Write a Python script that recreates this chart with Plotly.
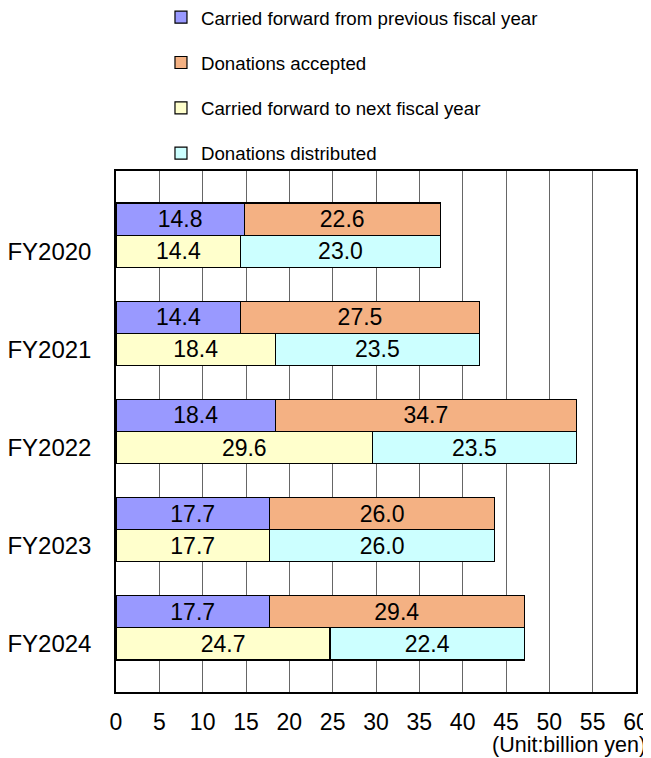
import plotly.graph_objects as go

years = ["FY2020", "FY2021", "FY2022", "FY2023", "FY2024"]
carried_prev = [14.8, 14.4, 18.4, 17.7, 17.7]
accepted = [22.6, 27.5, 34.7, 26.0, 29.4]
carried_next = [14.4, 18.4, 29.6, 17.7, 24.7]
distributed = [23.0, 23.5, 23.5, 26.0, 22.4]
x_ticks = list(range(0, 61, 5))

names = ["Carried forward from previous fiscal year", "Donations accepted",
         "Carried forward to next fiscal year", "Donations distributed"]
colors = ["#9999FF", "#F4B183", "#FFFFCC", "#CCFFFF"]

idx = list(range(len(years)))
top_pos = [i - 0.1635 for i in idx]
bot_pos = [i + 0.1635 for i in idx]

FONT = "Liberation Sans, Arial"

fig = go.Figure()
series = [(carried_prev, top_pos), (accepted, top_pos), (carried_next, bot_pos), (distributed, bot_pos)]
for k, (vals, pos) in enumerate(series):
    fig.add_trace(go.Bar(
        x=vals, y=pos, orientation="h", width=0.327,
        name=names[k], legendgroup=f"g{k}",
        marker=dict(color=colors[k], line=dict(color="black", width=1.2)),
        texttemplate="%{x:.1f}", textposition="inside", insidetextanchor="middle",
        textangle=0, textfont=dict(color="black", size=23, family=FONT),
        constraintext="none",
    ))

# page body has an 8px default margin, so the figure is sized to the visible area
fig.update_layout(
    barmode="stack",
    width=643, height=750,
    margin=dict(l=108, r=15, t=163, b=66, autoexpand=False),
    plot_bgcolor="white", paper_bgcolor="white",
    font=dict(family=FONT, color="black"),
    legend=dict(x=0.0865, xanchor="left", y=1.331, yanchor="top",
                font=dict(size=18.7), tracegroupgap=18, bgcolor="rgba(0,0,0,0)",
                itemwidth=30),
    uniformtext=dict(mode=False),
    xaxis=dict(range=[0, 60], tickvals=x_ticks, showgrid=True, gridcolor="#666666", gridwidth=1,
               showline=True, linecolor="black", linewidth=1.5, mirror=True, automargin=False,
               ticks="", tickfont=dict(size=23), ticklabelstandoff=9, zeroline=False),
    yaxis=dict(range=[4.653, -0.653], tickvals=bot_pos, ticktext=years, showgrid=False,
               showline=True, linecolor="black", linewidth=1.5, mirror=True, automargin=False,
               ticks="", tickfont=dict(size=24), ticklabelstandoff=18, zeroline=False),
    annotations=[dict(text="(Unit:billion yen)", x=1.0, xref="paper", xanchor="right",
                      y=-0.1017, yref="paper", yanchor="middle", showarrow=False,
                      font=dict(size=21.5), xshift=12)],
)

fig.write_html("out.html")
